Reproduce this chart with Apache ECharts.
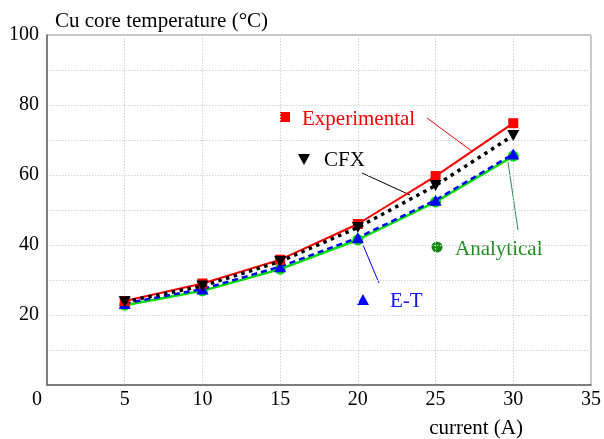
<!DOCTYPE html>
<html><head><meta charset="utf-8">
<script src="https://cdn.jsdelivr.net/npm/echarts@6/dist/echarts.min.js"></script>
<style>html,body{margin:0;padding:0;background:#fff}#c{width:604px;height:439px}</style>
</head><body><div id="c"></div>
<script>
const currents = [5, 10, 15, 20, 25, 30];
const experimental = [24.0, 29.0, 35.8, 46.0, 59.7, 74.8];
const cfx = [23.8, 28.3, 35.3, 45.0, 57.0, 71.3];
const analytical = [22.8, 26.9, 33.1, 41.5, 52.3, 65.4];
const et = [23.3, 27.4, 33.8, 42.1, 52.8, 66.0];
const xTicks = [0, 5, 10, 15, 20, 25, 30, 35];
const yTicks = [0, 20, 40, 60, 80, 100];

const FONT = 'Liberation Serif';
const AFONT = '21px "Liberation Serif"';
const pair = (ys) => currents.map((x, i) => [x, ys[i]]);
const chart = echarts.init(document.getElementById('c'), null, {renderer: 'canvas'});
const gridLine = {show: true, lineStyle: {color: '#d2d2d2', type: [1.5, 1.5], width: 1}};
chart.setOption({
  animation: false,
  backgroundColor: '#fff',
  textStyle: {fontFamily: FONT},
  grid: {left: 47, top: 35, right: 11, bottom: 48, show: true, borderColor: '#8c8c8c', borderWidth: 1},
  xAxis: {
    type: 'value', min: xTicks[0], max: xTicks[xTicks.length - 1], interval: 5,
    name: 'current (A)', nameLocation: 'end', nameGap: 0,
    nameTextStyle: {fontFamily: FONT, fontSize: 21, color: '#000', align: 'right', verticalAlign: 'top', padding: [33, 68, 0, 0]},
    axisLine: {lineStyle: {color: '#666', width: 1.5}},
    axisTick: {show: false},
    axisLabel: {fontFamily: FONT, fontSize: 20, color: '#000', margin: 5,
      formatter: v => v === 0 ? '{z|0}' : String(v),
      rich: {z: {fontFamily: FONT, fontSize: 20, color: '#000', padding: [0, 20, 0, 0]}}},
    splitLine: gridLine
  },
  yAxis: {
    type: 'value', min: yTicks[0], max: yTicks[yTicks.length - 1], interval: 20,
    name: 'Cu core temperature (°C)', nameLocation: 'end', nameGap: 14,
    nameTextStyle: {fontFamily: FONT, fontSize: 21, color: '#000', align: 'left', verticalAlign: 'middle', padding: [0, 0, 0, 8]},
    axisLine: {show: true, lineStyle: {color: '#666', width: 1.5}},
    axisTick: {show: false},
    axisLabel: {fontFamily: FONT, fontSize: 20, color: '#000', margin: 8, formatter: v => v === 0 ? '' : String(v)},
    splitLine: gridLine,
    minorTick: {show: false, splitNumber: 2},
    minorSplitLine: gridLine
  },
  series: [
    {name: 'Analytical', type: 'line', data: pair(analytical), symbol: 'circle', symbolSize: 11,
      itemStyle: {color: '#00dd00'}, lineStyle: {color: '#00e000', width: 2.5}, z: 2},
    {name: 'E-T', type: 'line', data: pair(et), symbol: 'triangle', symbolSize: [12, 11],
      itemStyle: {color: '#0000ff'}, lineStyle: {color: '#0000ff', width: 2.5, type: [6, 4]}, z: 3},
    {name: 'Experimental', type: 'line', data: pair(experimental), symbol: 'rect', symbolSize: 10,
      itemStyle: {color: '#ff0000'}, lineStyle: {color: '#ff0000', width: 2}, z: 4},
    {name: 'CFX', type: 'line', data: pair(cfx), symbol: 'triangle', symbolRotate: 180, symbolSize: [12, 11],
      itemStyle: {color: '#000'}, lineStyle: {color: '#000', width: 3.5, type: [3.5, 4.5]}, z: 5}
  ],
  graphic: [
    {type: 'rect', shape: {x: 280, y: 112, width: 10, height: 10}, style: {fill: '#ff0000'}},
    {type: 'text', left: 302, top: 109, style: {text: 'Experimental', fill: '#ff0000', font: AFONT}},
    {type: 'line', shape: {x1: 427, y1: 118, x2: 473, y2: 152}, style: {stroke: '#ff0000', lineWidth: 1}},
    {type: 'polygon', shape: {points: [[298, 154], [310, 154], [304, 165]]}, style: {fill: '#000'}},
    {type: 'text', left: 324, top: 150, style: {text: 'CFX', fill: '#000', font: AFONT}},
    {type: 'line', shape: {x1: 362, y1: 173, x2: 410, y2: 195}, style: {stroke: '#000', lineWidth: 1}},
    {type: 'circle', shape: {cx: 437, cy: 247, r: 5.5}, style: {fill: '#138a13'}},
    {type: 'text', left: 455, top: 239, style: {text: 'Analytical', fill: '#1f8f1f', font: AFONT}},
    {type: 'line', shape: {x1: 508, y1: 162, x2: 518, y2: 230}, style: {stroke: '#2e8b57', lineWidth: 1}},
    {type: 'polygon', shape: {points: [[357, 305], [369, 305], [363, 294]]}, style: {fill: '#0000ff'}},
    {type: 'text', left: 390, top: 291, style: {text: 'E-T', fill: '#1414ff', font: AFONT}},
    {type: 'line', shape: {x1: 363, y1: 245, x2: 379, y2: 283}, style: {stroke: '#0000ff', lineWidth: 1}}
  ]
});
</script></body></html>
